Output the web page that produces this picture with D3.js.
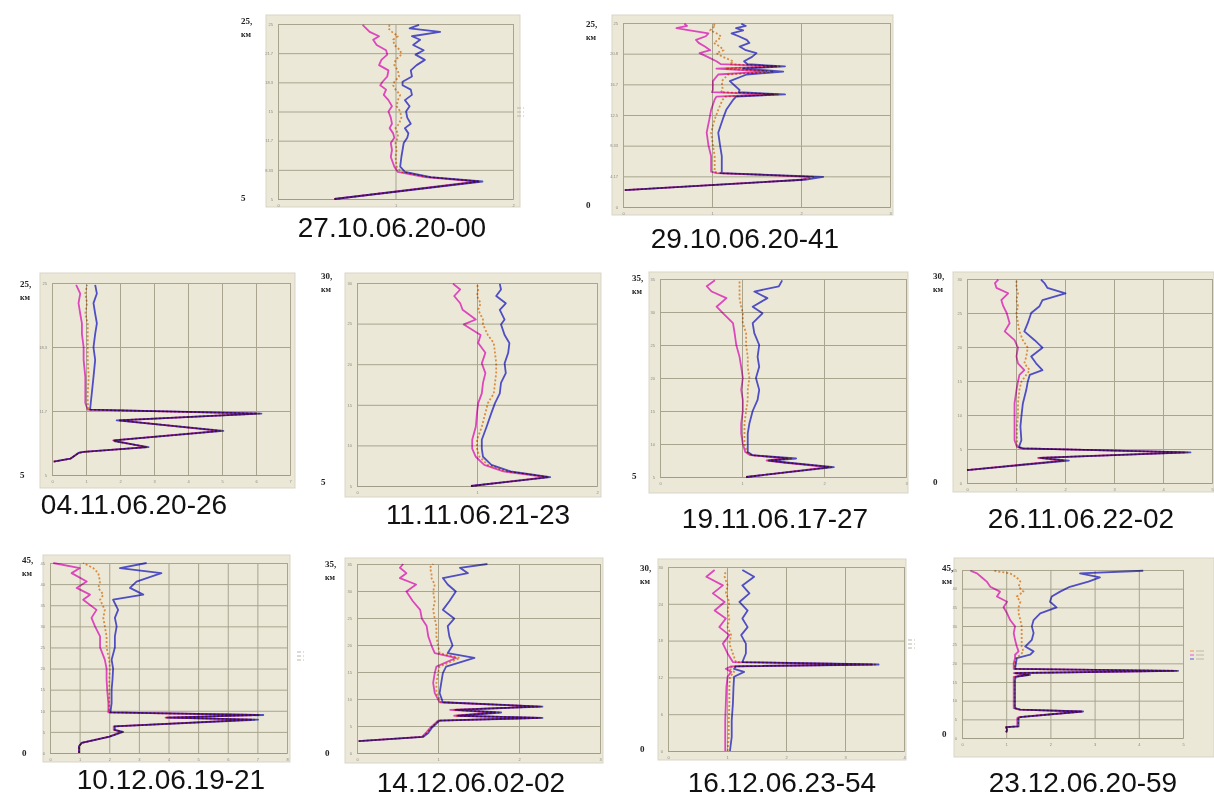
<!DOCTYPE html>
<html>
<head>
<meta charset="utf-8">
<script src="https://cdn.jsdelivr.net/npm/d3@7"></script>
<style>
  body { margin: 0; background: #fff; }
  svg { display: block; }
</style>
</head>
<body>
<svg id="chart" width="1214" height="800"></svg>
<script>
// ---- panel captions and axis labels (reading order) ----
const titles = ["27.10.06.20-00", "29.10.06.20-41", "04.11.06.20-26", "11.11.06.21-23", "19.11.06.17-27",
                "26.11.06.22-02", "10.12.06.19-21", "14.12.06.02-02", "16.12.06.23-54", "23.12.06.20-59"];
const topLabels = ["25,", "25,", "25,", "30,", "35,", "30,", "45,", "35,", "30,", "45,"];
const bottomLabels = ["5", "0", "5", "5", "5", "0", "0", "0", "0", "0"];
const yDomains = [[5, 25], [0, 25], [5, 25], [5, 30], [5, 35], [0, 30], [0, 45], [0, 35], [0, 30], [0, 45]];
const yDivs = [6, 6, 3, 5, 6, 6, 9, 7, 5, 9];
const xDivs = [2, 3, 7, 2, 3, 5, 8, 3, 4, 5];

// ---- profiles: altitude (km), lower (magenta), mean (orange), upper (blue) ----
const alt1 = [5.0, 7.0, 7.5, 8.1, 8.7, 9.8, 10.6, 11.4, 12.0, 12.5, 13.1, 13.6, 14.3, 15.0, 15.6, 16.3, 16.9, 17.5, 18.0, 18.4, 19.0, 19.7, 20.3, 20.9, 21.5, 22.0, 22.6, 23.2, 23.6, 24.1, 24.5, 24.9];
const lo1  = [0.48, 1.70, 1.25, 1.02, 0.99, 0.96, 0.97, 0.96, 0.99, 0.98, 0.95, 0.97, 0.96, 0.94, 0.97, 0.94, 0.90, 0.92, 0.87, 0.89, 0.93, 0.94, 0.86, 0.88, 0.93, 0.92, 0.84, 0.81, 0.86, 0.78, 0.75, 0.72];
const mid1 = [0.48, 1.72, 1.28, 1.05, 1.01, 1.00, 1.01, 1.00, 1.02, 1.02, 1.00, 1.03, 1.05, 1.04, 1.01, 1.02, 1.04, 1.00, 0.98, 0.99, 1.03, 1.02, 0.99, 1.00, 1.05, 1.04, 0.99, 0.98, 1.02, 0.97, 0.94, 0.95];
const hi1  = [0.48, 1.74, 1.30, 1.08, 1.04, 1.05, 1.06, 1.07, 1.10, 1.11, 1.08, 1.13, 1.10, 1.09, 1.12, 1.08, 1.14, 1.13, 1.06, 1.06, 1.14, 1.13, 1.18, 1.25, 1.17, 1.24, 1.15, 1.21, 1.14, 1.38, 1.12, 1.20];

const alt2 = [2.3, 3.7, 4.1, 4.6, 4.8, 6.9, 8.4, 10.1, 11.9, 13.2, 14.6, 15.0, 15.3, 15.6, 15.9, 17.1, 18.0, 18.4, 18.8, 19.1, 19.4, 19.8, 20.4, 20.9, 21.3, 21.8, 22.3, 22.7, 23.2, 23.6, 24.0, 24.3, 24.6, 24.9];
const lo2  = [0.02, 2.00, 2.10, 1.05, 0.99, 0.99, 0.96, 0.94, 0.97, 0.99, 1.03, 1.05, 1.69, 1.00, 1.01, 1.01, 1.07, 1.61, 1.05, 1.72, 1.10, 1.05, 0.95, 0.86, 0.98, 0.92, 0.85, 0.82, 0.93, 0.96, 0.75, 0.60, 0.72, 0.69];
const mid2 = [0.02, 2.02, 2.15, 1.08, 1.03, 1.03, 1.01, 0.99, 1.03, 1.07, 1.12, 1.15, 1.75, 1.10, 1.12, 1.11, 1.18, 1.69, 1.15, 1.76, 1.20, 1.24, 1.12, 1.05, 1.13, 1.09, 1.02, 1.07, 1.10, 1.05, 0.98, 1.00, 1.04, 1.01];
const hi2  = [0.02, 2.04, 2.25, 1.10, 1.11, 1.11, 1.09, 1.07, 1.12, 1.16, 1.24, 1.27, 1.82, 1.30, 1.31, 1.20, 1.39, 1.80, 1.35, 1.82, 1.40, 1.36, 1.45, 1.50, 1.38, 1.31, 1.42, 1.39, 1.30, 1.22, 1.35, 1.27, 1.38, 1.33];

const alt3 = [6.4, 6.7, 7.3, 7.4, 7.9, 8.5, 8.6, 9.6, 10.7, 11.4, 11.8, 12.5, 13.5, 15.2, 17.0, 18.3, 19.7, 20.8, 21.8, 22.9, 23.9, 24.8];
const lo3  = [0.05, 0.54, 0.78, 0.93, 2.75, 1.95, 1.80, 4.90, 2.00, 6.00, 1.05, 0.98, 0.98, 0.98, 0.93, 0.93, 0.88, 0.88, 0.83, 0.78, 0.83, 0.71];
const mid3 = [0.05, 0.54, 0.78, 0.93, 2.80, 1.86, 1.81, 5.00, 1.95, 6.10, 1.08, 1.05, 1.05, 1.08, 1.05, 1.05, 1.05, 1.05, 0.98, 1.03, 0.98, 1.03];
const hi3  = [0.05, 0.54, 0.78, 0.93, 2.84, 1.86, 1.83, 5.04, 1.90, 6.16, 1.12, 1.14, 1.17, 1.22, 1.27, 1.22, 1.27, 1.32, 1.27, 1.22, 1.32, 1.27];

const alt4 = [5.0, 6.1, 6.8, 7.6, 8.6, 9.6, 10.7, 12.3, 14.0, 15.2, 16.4, 17.7, 18.9, 20.1, 21.4, 22.6, 23.6, 24.9, 25.5, 26.7, 27.5, 28.4, 29.2, 29.9];
const lo4  = [0.95, 1.58, 1.22, 1.06, 0.99, 0.96, 0.96, 0.99, 1.00, 1.01, 1.04, 1.05, 1.07, 1.04, 1.07, 1.01, 1.03, 0.89, 0.99, 0.88, 0.86, 0.81, 0.86, 0.80];
const mid4 = [0.95, 1.60, 1.25, 1.09, 1.02, 1.00, 1.00, 1.04, 1.07, 1.09, 1.14, 1.15, 1.16, 1.16, 1.15, 1.14, 1.09, 1.05, 1.05, 1.01, 1.03, 1.00, 1.01, 1.00];
const hi4  = [0.95, 1.61, 1.28, 1.12, 1.05, 1.04, 1.04, 1.08, 1.12, 1.15, 1.19, 1.20, 1.24, 1.23, 1.26, 1.27, 1.23, 1.20, 1.23, 1.19, 1.24, 1.16, 1.20, 1.19];

const alt5 = [5.0, 6.5, 7.2, 7.5, 7.8, 8.3, 8.8, 10.0, 11.6, 13.1, 15.0, 16.7, 18.2, 20.0, 21.7, 23.2, 25.0, 26.8, 28.3, 29.8, 30.8, 32.1, 33.1, 33.9, 34.8];
const lo5  = [1.05, 2.05, 1.50, 1.30, 1.55, 1.10, 1.04, 1.01, 0.99, 0.99, 1.01, 1.01, 0.99, 1.01, 0.99, 0.97, 0.93, 0.91, 0.89, 0.77, 0.69, 0.81, 0.63, 0.57, 0.67];
const mid5 = [1.05, 2.09, 1.52, 1.32, 1.60, 1.12, 1.06, 1.03, 1.03, 1.03, 1.05, 1.07, 1.07, 1.09, 1.07, 1.07, 1.05, 1.05, 1.01, 1.01, 0.99, 0.97, 0.97, 0.97, 0.97];
const hi5  = [1.05, 2.12, 1.54, 1.33, 1.66, 1.13, 1.07, 1.07, 1.07, 1.09, 1.13, 1.19, 1.21, 1.17, 1.21, 1.19, 1.21, 1.15, 1.13, 1.25, 1.13, 1.31, 1.15, 1.45, 1.49];

const alt6 = [1.9, 3.3, 3.7, 4.5, 5.1, 5.3, 6.3, 8.3, 9.8, 11.7, 13.7, 14.9, 15.9, 16.6, 17.6, 18.6, 19.9, 21.0, 22.3, 23.5, 25.0, 26.0, 26.9, 27.9, 28.7, 29.4, 29.9];
const lo6  = [0.00, 1.95, 1.45, 4.45, 1.12, 1.02, 0.97, 0.97, 0.97, 0.97, 1.01, 1.04, 1.07, 1.17, 1.04, 1.01, 1.04, 0.97, 0.77, 0.87, 0.81, 0.74, 0.70, 0.84, 0.60, 0.57, 0.64];
const mid6 = [0.00, 2.00, 1.47, 4.50, 1.13, 1.03, 1.02, 1.02, 1.04, 1.04, 1.07, 1.11, 1.21, 1.28, 1.17, 1.21, 1.24, 1.14, 1.07, 1.04, 1.01, 1.04, 1.01, 1.04, 1.01, 1.01, 1.01];
const hi6  = [0.00, 2.08, 1.50, 4.56, 1.14, 1.06, 1.11, 1.09, 1.11, 1.14, 1.21, 1.24, 1.28, 1.54, 1.41, 1.31, 1.54, 1.38, 1.17, 1.24, 1.31, 1.48, 1.54, 2.01, 1.64, 1.58, 1.51];

const alt7 = [0, 1.6, 2.4, 3.9, 5.0, 5.5, 6.3, 7.9, 8.4, 9.0, 9.6, 11.8, 15.0, 17.4, 20.0, 22.1, 25.0, 27.6, 30.0, 32.0, 33.9, 36.3, 37.5, 39.1, 40.6, 42.6, 43.8, 45.0];
const lo7  = [0.98, 0.98, 1.07, 2.00, 2.40, 2.15, 2.15, 6.80, 3.90, 7.00, 1.97, 1.97, 1.93, 1.91, 1.91, 1.85, 1.69, 1.69, 1.52, 1.40, 1.57, 1.12, 1.35, 0.90, 1.24, 0.73, 1.01, 0.11];
const mid7 = [0.98, 0.98, 1.07, 2.01, 2.44, 2.17, 2.17, 6.90, 3.93, 7.10, 2.00, 2.00, 2.00, 2.00, 2.02, 2.00, 1.91, 1.91, 1.85, 1.80, 1.85, 1.69, 1.80, 1.63, 1.69, 1.63, 1.46, 1.12];
const hi7  = [0.98, 0.98, 1.07, 2.02, 2.47, 2.19, 2.19, 7.02, 3.96, 7.20, 2.04, 2.08, 2.08, 2.11, 2.13, 2.08, 2.19, 2.19, 2.25, 2.19, 2.30, 2.13, 3.15, 2.70, 2.92, 3.76, 2.36, 3.26];

const alt8 = [2.2, 3.0, 3.7, 4.6, 6.0, 6.5, 6.9, 7.5, 8.0, 8.6, 9.4, 11.1, 13.0, 14.8, 16.0, 17.6, 18.5, 19.9, 21.6, 23.5, 24.9, 26.5, 28.1, 29.9, 31.2, 32.4, 33.3, 34.3, 35.0];
const lo8  = [0.02, 0.80, 0.85, 0.90, 1.00, 2.25, 1.20, 1.70, 1.15, 2.25, 1.02, 0.96, 0.94, 0.96, 0.98, 1.22, 0.96, 0.92, 0.88, 0.86, 0.80, 0.78, 0.69, 0.61, 0.73, 0.53, 0.61, 0.53, 0.57];
const mid8 = [0.02, 0.81, 0.86, 0.91, 1.01, 2.27, 1.22, 1.75, 1.20, 2.27, 1.04, 0.98, 0.98, 1.00, 1.02, 1.27, 1.02, 1.00, 0.98, 0.98, 0.96, 0.94, 0.96, 0.94, 0.96, 0.92, 0.92, 0.90, 0.94];
const hi8  = [0.02, 0.82, 0.88, 0.92, 1.02, 2.29, 1.25, 1.78, 1.22, 2.29, 1.06, 1.02, 1.04, 1.06, 1.10, 1.45, 1.12, 1.18, 1.14, 1.12, 1.20, 1.06, 1.14, 1.22, 1.12, 1.06, 1.37, 1.27, 1.61];

const alt9 = [0, 2.3, 5.0, 7.7, 10.4, 12.1, 12.9, 13.4, 13.8, 14.1, 14.5, 15.9, 17.5, 18.9, 20.2, 21.6, 22.9, 24.3, 25.7, 27.0, 28.4, 29.5];
const lo9  = [0.97, 0.97, 0.97, 0.98, 0.99, 1.01, 1.07, 0.98, 1.07, 3.46, 1.10, 1.01, 0.93, 1.04, 0.87, 0.98, 0.79, 0.96, 0.76, 0.93, 0.65, 0.79];
const mid9 = [1.01, 1.03, 1.03, 1.04, 1.04, 1.05, 1.12, 1.04, 1.10, 3.51, 1.15, 1.10, 1.04, 1.07, 1.01, 1.04, 1.01, 1.04, 0.98, 1.01, 0.96, 0.98];
const hi9  = [1.05, 1.08, 1.08, 1.10, 1.11, 1.12, 1.29, 1.12, 1.15, 3.57, 1.26, 1.32, 1.32, 1.24, 1.35, 1.26, 1.35, 1.21, 1.38, 1.26, 1.46, 1.26];

const alt10 = [1.5, 2.2, 2.9, 3.1, 5.3, 5.6, 7.1, 7.6, 8.0, 15.6, 16.4, 16.9, 17.4, 18.0, 18.5, 20.0, 21.4, 22.3, 23.2, 24.5, 26.3, 28.1, 29.9, 31.6, 33.4, 35.0, 36.5, 37.9, 39.2, 40.5, 41.9, 43.0, 44.1, 44.8];
const lo10  = [1.00, 1.02, 1.00, 1.25, 1.25, 1.28, 2.70, 1.30, 1.17, 1.17, 1.17, 1.50, 1.17, 4.80, 1.17, 1.17, 1.20, 1.20, 1.28, 1.24, 1.20, 1.17, 1.20, 1.09, 1.02, 0.94, 1.02, 0.79, 0.86, 0.64, 0.56, 0.45, 0.34, 0.19];
const mid10 = [1.00, 1.02, 1.00, 1.27, 1.27, 1.30, 2.72, 1.31, 1.19, 1.19, 1.20, 1.52, 1.19, 4.85, 1.19, 1.20, 1.22, 1.32, 1.39, 1.35, 1.35, 1.35, 1.35, 1.32, 1.28, 1.28, 1.32, 1.24, 1.39, 1.28, 1.32, 1.24, 1.09, 0.71];
const hi10  = [1.00, 1.02, 1.00, 1.28, 1.28, 1.32, 2.74, 1.32, 1.20, 1.20, 1.22, 1.54, 1.20, 4.89, 1.20, 1.22, 1.24, 1.54, 1.62, 1.43, 1.58, 1.62, 1.58, 1.62, 1.77, 2.14, 1.99, 2.03, 2.22, 2.44, 2.86, 3.12, 2.67, 4.10];

const alts = [alt1, alt2, alt3, alt4, alt5, alt6, alt7, alt8, alt9, alt10];
const los  = [lo1, lo2, lo3, lo4, lo5, lo6, lo7, lo8, lo9, lo10];
const mids = [mid1, mid2, mid3, mid4, mid5, mid6, mid7, mid8, mid9, mid10];
const his  = [hi1, hi2, hi3, hi4, hi5, hi6, hi7, hi8, hi9, hi10];

// ---- page layout: frame box, plot box [x0, y0, x1, y1], label column, caption anchor, legend spot ----
const layout = [
  { frame: [266, 15, 520, 207],  plot: [278, 24, 513, 199],  lab: [241, 24, 201],  cap: [392, 237], leg: [517, 108, "#b8b6aa"] },
  { frame: [612, 15, 893, 215],  plot: [623, 23, 890, 207],  lab: [586, 27, 208],  cap: [745, 248] },
  { frame: [40, 273, 295, 488],  plot: [52, 283, 290, 475],  lab: [20, 287, 478],  cap: [134, 514] },
  { frame: [345, 273, 601, 497], plot: [357, 283, 597, 486], lab: [321, 279, 485], cap: [478, 524] },
  { frame: [649, 272, 908, 493], plot: [660, 279, 906, 477], lab: [632, 281, 479], cap: [775, 528] },
  { frame: [953, 272, 1214, 492], plot: [967, 279, 1212, 483], lab: [933, 279, 485], cap: [1081, 528] },
  { frame: [43, 555, 290, 762],  plot: [50, 563, 287, 753],  lab: [22, 563, 756],  cap: [171, 789], leg: [297, 652, "#b8b6aa"] },
  { frame: [345, 558, 603, 763], plot: [357, 564, 600, 753], lab: [325, 567, 756], cap: [471, 792] },
  { frame: [658, 559, 906, 760], plot: [668, 567, 904, 751], lab: [640, 571, 752], cap: [782, 792], leg: [908, 640, "#b8b6aa"] },
  { frame: [954, 558, 1214, 757], plot: [962, 570, 1183, 738], lab: [942, 571, 737], cap: [1083, 792], leg: [1190, 651, null] }
];

const colors = { lo: "#f04ede", mid: "#ee9a48", hi: "#5656e6" };

const svg = d3.select("#chart");

titles.forEach((title, i) => {
  const L = layout[i];
  const [px0, py0, px1, py1] = L.plot;
  const g = svg.append("g");

  // chart frame (Excel-style beige)
  g.append("rect")
    .attr("x", L.frame[0])
    .attr("y", L.frame[1])
    .attr("width", L.frame[2] - L.frame[0])
    .attr("height", L.frame[3] - L.frame[1])
    .attr("fill", "#ebe8d8")
    .attr("stroke", "#d9d5c6");

  const x = d3.scaleLinear().domain([0, xDivs[i]]).range([px0, px1]);
  const y = d3.scaleLinear().domain(yDomains[i]).range([py1, py0]);

  const [y0, y1] = yDomains[i];
  const yTicks = d3.range(yDivs[i] + 1).map(k => y0 + k * (y1 - y0) / yDivs[i]);
  const xTicks = d3.range(xDivs[i] + 1);

  // horizontal grid + tiny left tick labels
  g.append("g")
    .attr("transform", `translate(${px0},0)`)
    .call(d3.axisLeft(y).tickValues(yTicks).tickSize(-(px1 - px0)).tickPadding(5).tickFormat(d3.format(".3~g")))
    .call(a => {
      a.select(".domain").attr("stroke", "#a09c88");
      a.selectAll(".tick line").attr("stroke", "#a8a48e");
      a.selectAll("text").attr("font-size", 4).attr("fill", "#8a8a80").attr("font-family", "Liberation Sans");
    });

  // vertical grid + tiny bottom tick labels
  g.append("g")
    .attr("transform", `translate(0,${py1})`)
    .call(d3.axisBottom(x).tickValues(xTicks).tickSize(-(py1 - py0)).tickPadding(5).tickFormat(d3.format("d")))
    .call(a => {
      a.select(".domain").attr("stroke", "#a09c88");
      a.selectAll(".tick line").attr("stroke", "#a8a48e");
      a.selectAll("text").attr("font-size", 4).attr("fill", "#8a8a80").attr("font-family", "Liberation Sans");
    });

  // profiles
  const line = d3.line().x(d => x(d[0])).y(d => y(d[1]));
  const series = [
    { vals: his[i], color: colors.hi, dash: null },
    { vals: los[i], color: colors.lo, dash: null },
    { vals: mids[i], color: colors.mid, dash: "2,2" }
  ];
  series.forEach(s => {
    g.append("path")
      .datum(s.vals.map((v, k) => [v, alts[i][k]]))
      .attr("fill", "none")
      .attr("stroke", s.color)
      .attr("stroke-width", 1.8)
      .attr("stroke-linejoin", "round")
      .attr("stroke-dasharray", s.dash)
      .style("mix-blend-mode", "multiply")
      .attr("d", line);
  });

  // tiny series legend (barely legible in the original)
  if (L.leg) {
    const leg = g.append("g").attr("transform", `translate(${L.leg[0]},${L.leg[1]})`);
    series.slice().reverse().forEach((s, k) => {
      leg.append("line")
        .attr("x1", 0).attr("x2", 4)
        .attr("y1", k * 4).attr("y2", k * 4)
        .attr("stroke", L.leg[2] || s.color)
        .attr("stroke-width", 1);
      leg.append("line")
        .attr("x1", 6).attr("x2", L.leg[2] ? 7 : 14)
        .attr("y1", k * 4).attr("y2", k * 4)
        .attr("stroke", "#b0ae9e")
        .attr("stroke-width", 0.8);
    });
  }

  // altitude labels
  const lab = g.append("g")
    .attr("font-family", "Liberation Serif")
    .attr("font-weight", "bold")
    .attr("font-size", 9)
    .attr("fill", "#222");
  lab.append("text").attr("x", L.lab[0]).attr("y", L.lab[1]).text(topLabels[i]);
  lab.append("text").attr("x", L.lab[0]).attr("y", L.lab[1] + 13).attr("font-size", 8).text("км");
  lab.append("text").attr("x", L.lab[0]).attr("y", L.lab[2]).text(bottomLabels[i]);

  // caption
  g.append("text")
    .attr("x", L.cap[0])
    .attr("y", L.cap[1])
    .attr("text-anchor", "middle")
    .attr("font-family", "Liberation Sans")
    .attr("font-size", 28)
    .attr("fill", "#111")
    .text(title);
});
</script>
</body>
</html>
